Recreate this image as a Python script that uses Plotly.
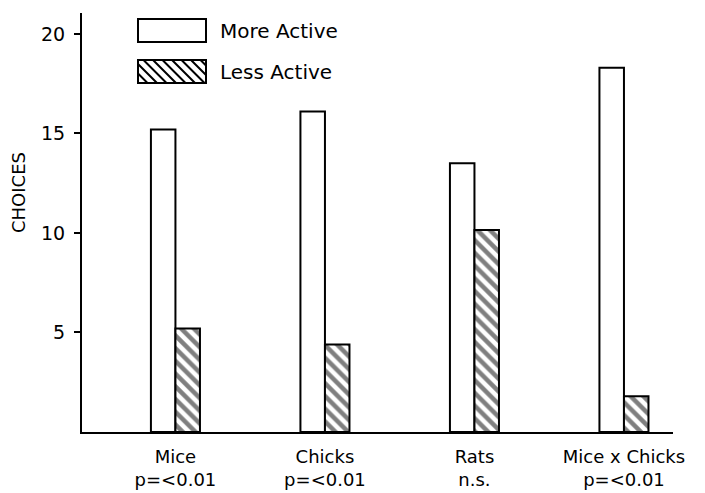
import plotly.graph_objects as go

categories = ["Mice", "Chicks", "Rats", "Mice x Chicks"]
tick_labels = ["Mice<br>p=&lt;0.01", "Chicks<br>p=&lt;0.01", "Rats<br>n.s.", "Mice x Chicks<br>p=&lt;0.01"]
more_active = [15.2, 16.1, 13.5, 18.3]
less_active = [5.2, 4.4, 10.15, 1.8]
y_ticks = [5, 10, 15, 20]
series_names = ["More Active", "Less Active"]
y_title = "CHOICES"

W, H = 705, 493
L, R, T, B = 82, 32, 13, 61
pw, ph = W - L - R, H - T - B

def px(X):
    return (X - L) / pw

def py(Y):
    return (H - B - Y) / ph

FONT = "DejaVu Sans"
bw = 0.164

fig = go.Figure()
fig.add_trace(go.Bar(
    x=categories, y=more_active, name=series_names[0],
    width=bw, offset=-bw,
    marker=dict(color="white", line=dict(color="black", width=2)),
    showlegend=False,
))
fig.add_trace(go.Bar(
    x=categories, y=less_active, name=series_names[1],
    width=bw, offset=0,
    marker=dict(color="white", line=dict(color="black", width=2),
                pattern=dict(shape="\\", fgcolor="black", bgcolor="white",
                             size=9, solidity=0.5)),
    showlegend=False,
))

# legend keys drawn as shapes
shapes = []
shapes.append(dict(type="rect", xref="paper", yref="paper",
                   x0=px(138), x1=px(206), y0=py(42), y1=py(19),
                   line=dict(color="black", width=2), fillcolor="white"))
hx0, hx1, hy0, hy1 = 138, 206, 60, 83
path = ""
step = 9.5
start = hx0 - (hy1 - hy0)
x = start
while x < hx1:
    xa, ya = x, hy0
    xb, yb = x + (hy1 - hy0), hy1
    if xa < hx0:
        ya = hy0 + (hx0 - xa); xa = hx0
    if xb > hx1:
        yb = hy1 - (xb - hx1); xb = hx1
    if xb > xa:
        path += f"M {px(xa):.5f} {py(ya):.5f} L {px(xb):.5f} {py(yb):.5f} "
    x += step
shapes.append(dict(type="path", xref="paper", yref="paper", path=path,
                   line=dict(color="black", width=2)))
shapes.append(dict(type="rect", xref="paper", yref="paper",
                   x0=px(hx0), x1=px(hx1), y0=py(hy1), y1=py(hy0),
                   line=dict(color="black", width=2)))

annotations = [
    dict(text=series_names[0], xref="paper", yref="paper", x=px(218), y=py(31),
         xanchor="left", yanchor="middle", showarrow=False,
         font=dict(family=FONT, size=20, color="black")),
    dict(text=series_names[1], xref="paper", yref="paper", x=px(218), y=py(72),
         xanchor="left", yanchor="middle", showarrow=False,
         font=dict(family=FONT, size=20, color="black")),
    dict(text=y_title, xref="paper", yref="paper", x=px(18), y=py(193),
         xanchor="center", yanchor="middle", textangle=-90, showarrow=False,
         font=dict(family=FONT, size=18, color="black")),
]

fig.update_layout(
    width=W, height=H,
    margin=dict(l=L, r=R, t=T, b=B, autoexpand=False),
    paper_bgcolor="white", plot_bgcolor="white",
    barmode="overlay",
    shapes=shapes, annotations=annotations,
    showlegend=False,
    font=dict(family=FONT, color="black"),
)
fig.update_xaxes(
    range=[-0.625, 3.328], tickvals=categories, ticktext=tick_labels,
    showline=True, linecolor="black", linewidth=2, showgrid=False,
    ticks="", tickfont=dict(family=FONT, size=18, color="black"),
    ticklabelstandoff=7,
    automargin=False,
)
fig.update_yaxes(
    range=[0, 21.05], tickvals=y_ticks, ticktext=[str(v) for v in y_ticks],
    showline=True, linecolor="black", linewidth=2, showgrid=False, zeroline=False,
    ticks="outside", ticklen=6, tickwidth=2, tickcolor="black",
    tickfont=dict(family=FONT, size=19, color="black"),
    ticklabelstandoff=5,
    automargin=False,
)

fig.write_html("out.html", config={"displayModeBar": False},
               post_script="document.body.style.margin='0';document.body.style.padding='0';")
